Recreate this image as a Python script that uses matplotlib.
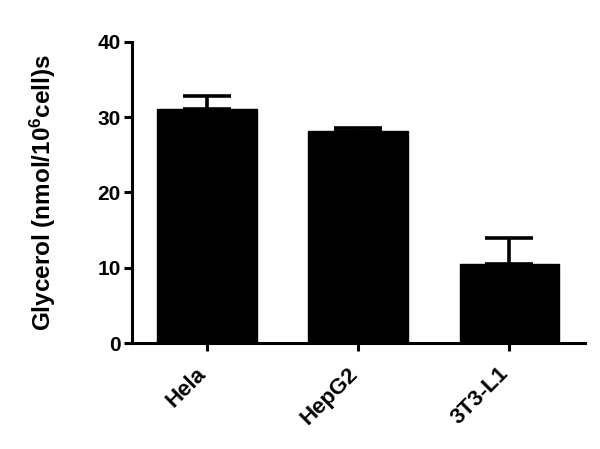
import matplotlib
matplotlib.use('Agg')
import matplotlib.pyplot as plt
import matplotlib.transforms as mtransforms

plt.rcParams['font.family'] = ['Liberation Sans', 'DejaVu Sans']
plt.rcParams['font.weight'] = 'bold'
plt.rcParams['mathtext.fontset'] = 'custom'
plt.rcParams['mathtext.rm'] = 'Liberation Sans:bold'
plt.rcParams['mathtext.default'] = 'rm'

cells = ['Hela', 'HepG2', '3T3-L1']
glycerol = [31.1, 28.15, 10.5]
upper_err = [1.7, 0.35, 3.5]

fig = plt.figure(figsize=(6, 4.49), dpi=100)
ax = fig.add_axes([0.2195, 0.236, 0.7555, 0.671])

x = range(len(cells))
ax.bar(x, glycerol, width=0.66, color='black', edgecolor='black', zorder=2)
ax.errorbar(x, glycerol, yerr=[[0] * len(cells), upper_err], fmt='none',
            ecolor='black', elinewidth=2.6, capsize=17.6, capthick=2.6, zorder=3)

ax.set_xlim(-0.5, 2.5)
ax.set_ylim(0, 40)
ax.set_yticks([0, 10, 20, 30, 40])
ax.set_xticks(list(x))
ax.set_xticklabels(cells, rotation=45, ha='right', va='center',
                   rotation_mode='anchor', fontsize=16)
ax.tick_params(axis='y', labelsize=15, width=2.2, length=6, pad=2)
ax.tick_params(axis='x', width=2.2, length=6, pad=14)

# nudge the rotated labels a little left so their end sits under the tick
shift = mtransforms.ScaledTranslation(-4 / 100, 0, fig.dpi_scale_trans)
for lbl in ax.get_xticklabels():
    lbl.set_transform(lbl.get_transform() + shift)

for s in ['top', 'right']:
    ax.spines[s].set_visible(False)
for s in ['left', 'bottom']:
    ax.spines[s].set_linewidth(2.2)

ax.set_ylabel('Glycerol (nmol/10$^{6}$cell)s', fontsize=17.5, fontweight='bold', labelpad=28)

fig.savefig('out.png', dpi=100)
